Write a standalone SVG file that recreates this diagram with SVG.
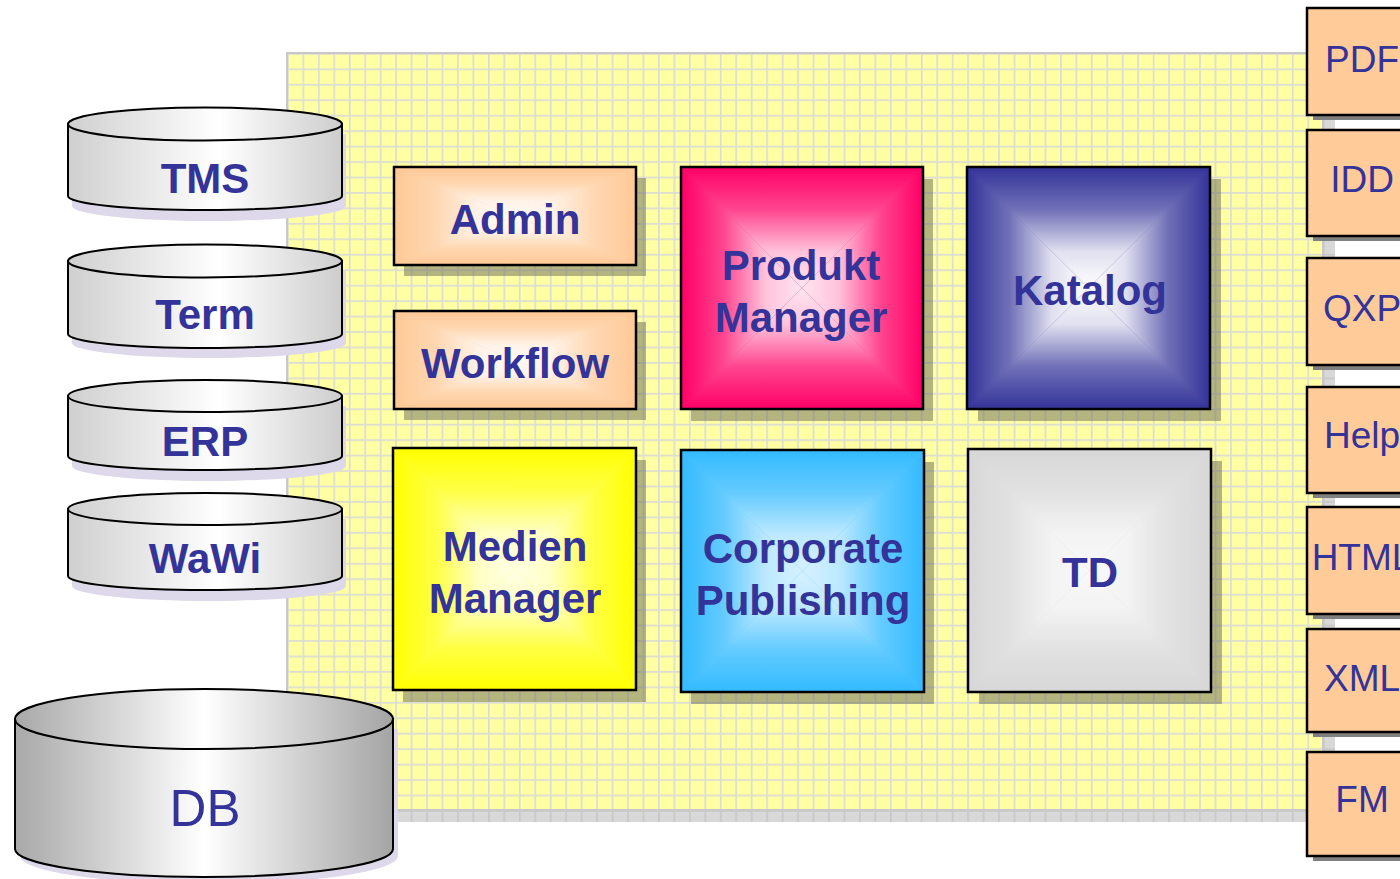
<svg xmlns="http://www.w3.org/2000/svg" xmlns:xlink="http://www.w3.org/1999/xlink" width="1400" height="879" viewBox="0 0 1400 879">
<style>
.lbl{font-family:"Liberation Sans",Arial,sans-serif;font-weight:bold;font-size:42px;fill:#333399;text-anchor:middle}
.out{font-family:"Liberation Sans",Arial,sans-serif;font-size:37px;fill:#333399;text-anchor:middle}
.db{font-family:"Liberation Sans",Arial,sans-serif;font-size:51px;fill:#333399;text-anchor:middle}
.edge{fill:none;stroke:#000;stroke-width:2.5}
.shadow{fill:#6a6a5a;opacity:0.5}
.oshadow{fill:#808080}
.obox{fill:#ffcc99;stroke:#000;stroke-width:2.5}
.cyl{fill:url(#cylG);stroke:#000;stroke-width:2}
.cylBig{fill:url(#cylB);stroke:#000;stroke-width:2}
.cylsh{fill:#ddd9ea}
</style>
<defs>
<pattern id="grid" patternUnits="userSpaceOnUse" x="287" y="53" width="15.46" height="15.45">
<rect width="15.46" height="15.45" fill="#dcdcd4"/>
<rect x="1.7" y="1.7" width="13.76" height="13.75" fill="#ffffa3"/>
</pattern>
<pattern id="gridsh" patternUnits="userSpaceOnUse" x="287" y="53" width="15.46" height="15.45">
<rect width="15.46" height="15.45" fill="#c8c8c8"/>
<rect x="1.7" y="1.7" width="13.76" height="13.75" fill="#d8d8d8"/>
</pattern>
<linearGradient id="gT" x1="0" y1="0" x2="0" y2="1"><stop offset="0" stop-color="#fff" stop-opacity="0"/><stop offset="0.35" stop-color="#fff" stop-opacity="0.3"/><stop offset="0.7" stop-color="#fff" stop-opacity="0.85"/><stop offset="1" stop-color="#fff" stop-opacity="1"/></linearGradient>
<linearGradient id="gB" x1="0" y1="1" x2="0" y2="0" xlink:href="#gT"/>
<linearGradient id="gL" x1="0" y1="0" x2="1" y2="0" xlink:href="#gT"/>
<linearGradient id="gR" x1="1" y1="0" x2="0" y2="0" xlink:href="#gT"/>
<symbol id="glow" viewBox="0 0 100 100" preserveAspectRatio="none">
<polygon points="0,0 100,0 50,50" fill="url(#gT)"/>
<polygon points="0,100 100,100 50,50" fill="url(#gB)"/>
<polygon points="0,0 0,100 50,50" fill="url(#gL)"/>
<polygon points="100,0 100,100 50,50" fill="url(#gR)"/>
</symbol>
<linearGradient id="cylG" x1="0" y1="0" x2="1" y2="0">
<stop offset="0" stop-color="#cfcfcf"/><stop offset="0.55" stop-color="#ffffff"/><stop offset="1" stop-color="#cdcdcd"/>
</linearGradient>
<linearGradient id="cylB" x1="0" y1="0" x2="1" y2="0">
<stop offset="0" stop-color="#a8a8a8"/><stop offset="0.5" stop-color="#ffffff"/><stop offset="1" stop-color="#a4a4a4"/>
</linearGradient>
</defs>

<g id="panel">
<rect x="299" y="65" width="1036" height="757" fill="url(#gridsh)"/>
<rect x="287" y="53" width="1036" height="757" fill="url(#grid)" stroke="#c8c8c8" stroke-width="2"/>
</g>

<g id="connectors"></g>

<g id="tms">
<path class="cylsh" d="M72,134 L72,206 A137,15 0 0 0 346,206 L346,134 Z"/>
<path class="cyl" d="M68,124 L68,196 A137,14 0 0 0 342,196 L342,124 Z"/>
<ellipse class="cyl" cx="205" cy="124" rx="137" ry="16.5"/>
<text class="lbl" x="205" y="193">TMS</text>
</g>
<g id="term">
<path class="cylsh" d="M72,271 L72,343 A137,15 0 0 0 346,343 L346,271 Z"/>
<path class="cyl" d="M68,261 L68,334 A137,14 0 0 0 342,334 L342,261 Z"/>
<ellipse class="cyl" cx="205" cy="261" rx="137" ry="16.5"/>
<text class="lbl" x="205" y="329">Term</text>
</g>
<g id="erp">
<path class="cylsh" d="M72,406 L72,466 A137,15 0 0 0 346,466 L346,406 Z"/>
<path class="cyl" d="M68,396 L68,456 A137,14 0 0 0 342,456 L342,396 Z"/>
<ellipse class="cyl" cx="205" cy="396" rx="137" ry="16"/>
<text class="lbl" x="205" y="456">ERP</text>
</g>
<g id="wawi">
<path class="cylsh" d="M72,519 L72,586 A137,15 0 0 0 346,586 L346,519 Z"/>
<path class="cyl" d="M68,509 L68,576 A137,14 0 0 0 342,576 L342,509 Z"/>
<ellipse class="cyl" cx="205" cy="509" rx="137" ry="16"/>
<text class="lbl" x="205" y="573">WaWi</text>
</g>
<g id="db">
<path class="cylsh" d="M20,729 L20,856 A189,28 0 0 0 398,856 L398,729 Z"/>
<path class="cylBig" d="M15,719 L15,849 A189,28 0 0 0 393,849 L393,719 Z"/>
<ellipse class="cylBig" cx="204" cy="719" rx="189" ry="30"/>
<text class="db" x="205" y="826">DB</text>
</g>

<g id="admin">
<rect class="shadow" x="404" y="178" width="242" height="98"/>
<rect x="394" y="167" width="242" height="98" fill="#ffc996"/>
<use xlink:href="#glow" x="394" y="167" width="242" height="98" opacity="0.92"/>
<rect class="edge" x="394" y="167" width="242" height="98"/>
<text class="lbl" x="515" y="234">Admin</text>
</g>
<g id="workflow">
<rect class="shadow" x="404" y="322" width="242" height="98"/>
<rect x="394" y="311" width="242" height="98" fill="#ffc996"/>
<use xlink:href="#glow" x="394" y="311" width="242" height="98" opacity="0.92"/>
<rect class="edge" x="394" y="311" width="242" height="98"/>
<text class="lbl" x="515" y="378">Workflow</text>
</g>
<g id="produkt">
<rect class="shadow" x="691" y="179" width="242" height="242"/>
<rect x="681" y="167" width="242" height="242" fill="#ff0066"/>
<use xlink:href="#glow" x="681" y="167" width="242" height="242" opacity="0.9"/>
<rect class="edge" x="681" y="167" width="242" height="242"/>
<text class="lbl" x="801" y="280">Produkt</text>
<text class="lbl" x="801" y="332">Manager</text>
</g>
<g id="katalog">
<rect class="shadow" x="978" y="179" width="243" height="242"/>
<rect x="967" y="167" width="243" height="242" fill="#333399"/>
<use xlink:href="#glow" x="967" y="167" width="243" height="242"/>
<rect class="edge" x="967" y="167" width="243" height="242"/>
<text class="lbl" x="1090" y="305">Katalog</text>
</g>
<g id="medien">
<rect class="shadow" x="403" y="460" width="243" height="242"/>
<rect x="393" y="448" width="243" height="242" fill="#ffff00"/>
<use xlink:href="#glow" x="393" y="448" width="243" height="242" opacity="0.9"/>
<rect class="edge" x="393" y="448" width="243" height="242"/>
<text class="lbl" x="515" y="561">Medien</text>
<text class="lbl" x="515" y="613">Manager</text>
</g>
<g id="corporate">
<rect class="shadow" x="691" y="462" width="243" height="242"/>
<rect x="681" y="450" width="243" height="242" fill="#33bbff"/>
<use xlink:href="#glow" x="681" y="450" width="243" height="242" opacity="0.8"/>
<rect class="edge" x="681" y="450" width="243" height="242"/>
<text class="lbl" x="803" y="563">Corporate</text>
<text class="lbl" x="803" y="615">Publishing</text>
</g>
<g id="td">
<rect class="shadow" x="979" y="461" width="243" height="243"/>
<rect x="968" y="449" width="243" height="243" fill="#d8d8d8"/>
<use xlink:href="#glow" x="968" y="449" width="243" height="243" opacity="0.85"/>
<rect class="edge" x="968" y="449" width="243" height="243"/>
<text class="lbl" x="1090" y="587">TD</text>
</g>

<g id="pdf"><rect class="oshadow" x="1313" y="13" width="120" height="107"/><rect class="obox" x="1307" y="8" width="120" height="107"/><text class="out" x="1362" y="72">PDF</text></g>
<g id="idd"><rect class="oshadow" x="1313" y="135" width="120" height="106"/><rect class="obox" x="1307" y="130" width="120" height="106"/><text class="out" x="1362" y="192">IDD</text></g>
<g id="qxp"><rect class="oshadow" x="1313" y="263" width="120" height="107"/><rect class="obox" x="1307" y="258" width="120" height="107"/><text class="out" x="1362" y="321">QXP</text></g>
<g id="help"><rect class="oshadow" x="1313" y="392" width="120" height="106"/><rect class="obox" x="1307" y="387" width="120" height="106"/><text class="out" x="1362" y="448">Help</text></g>
<g id="html"><rect class="oshadow" x="1313" y="512" width="120" height="107"/><rect class="obox" x="1307" y="507" width="120" height="107"/><text class="out" x="1362" y="570">HTML</text></g>
<g id="xml"><rect class="oshadow" x="1313" y="634" width="120" height="103"/><rect class="obox" x="1307" y="629" width="120" height="103"/><text class="out" x="1362" y="691">XML</text></g>
<g id="fm"><rect class="oshadow" x="1313" y="757" width="120" height="104"/><rect class="obox" x="1307" y="752" width="120" height="104"/><text class="out" x="1362" y="812">FM</text></g>
</svg>
